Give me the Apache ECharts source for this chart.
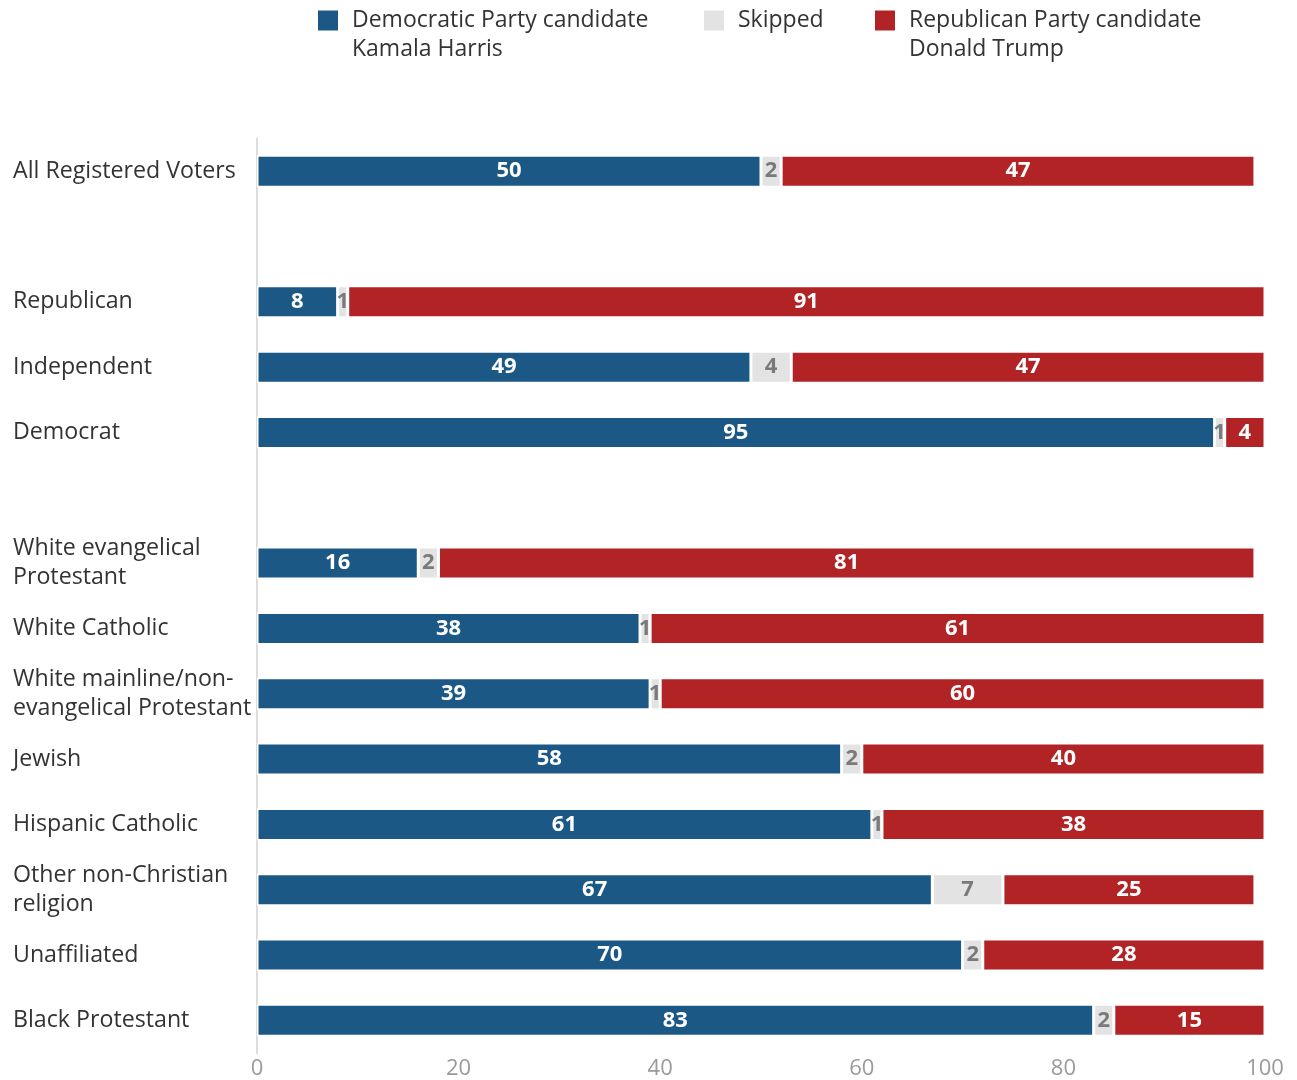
<!DOCTYPE html>
<html>
<head>
<meta charset="utf-8">
<script src="https://cdn.jsdelivr.net/npm/echarts@6/dist/echarts.min.js"></script>
<style>
  html, body { margin: 0; padding: 0; background: #fff; }
  #chart { width: 1297px; height: 1080px; }
</style>
</head>
<body>
<div id="chart"></div>
<script>
// Groups, top to bottom; blank entries leave a spacer row between sections
const categories = [
  'All Registered Voters',
  ' ',
  'Republican',
  'Independent',
  'Democrat',
  '  ',
  'White evangelical\nProtestant',
  'White Catholic',
  'White mainline/non-\nevangelical Protestant',
  'Jewish',
  'Hispanic Catholic',
  'Other non-Christian\nreligion',
  'Unaffiliated',
  'Black Protestant'
];

// Percent of each group
const harris  = [50, null, 8, 49, 95, null, 16, 38, 39, 58, 61, 67, 70, 83];
const skipped = [2,  null, 1, 4,  1,  null, 2,  1,  1,  2,  1,  7,  2,  2];
const trump   = [47, null, 91, 47, 4, null, 81, 61, 60, 40, 38, 25, 28, 15];

const xTicks = [0, 20, 40, 60, 80, 100];

const seriesNames = [
  'Democratic Party candidate\nKamala Harris',
  'Skipped',
  'Republican Party candidate\nDonald Trump'
];

const FONT = '"Open Sans", "Noto Sans", sans-serif';
const BLUE = '#1b5886';
const GREY = '#e3e3e3';
const RED = '#b12324';

// Square key sitting at the top of a two-line-tall icon box,
// so it lines up with the first line of a two-line legend label
const TALL_KEY = 'path://M0,0H20V20H0Z M0,49L20,49';

function barSeries(name, data, color, labelColor) {
  return {
    name: name,
    type: 'bar',
    stack: 'total',
    data: data,
    barWidth: 32,
    itemStyle: { color: color, borderColor: '#ffffff', borderWidth: 1.5 },
    label: {
      show: true,
      position: 'inside',
      color: labelColor,
      fontFamily: FONT,
      fontWeight: 'bold',
      fontSize: 22,
      formatter: p => (p.value == null ? '' : String(p.value))
    },
    emphasis: { disabled: true }
  };
}

function legendFor(name, left, tall) {
  return {
    left: left,
    top: 6,
    padding: 0,
    itemWidth: 20,
    itemHeight: tall ? 49 : 20,
    icon: tall ? TALL_KEY : 'rect',
    selectedMode: false,
    itemStyle: { borderWidth: 0 },
    textStyle: {
      fontFamily: FONT,
      fontSize: 23,
      color: '#333333',
      lineHeight: 29,
      padding: [0, 0, 0, 9]
    },
    data: [name]
  };
}

const chart = echarts.init(document.getElementById('chart'), null, { renderer: 'canvas' });

chart.setOption({
  animation: false,
  backgroundColor: '#ffffff',
  textStyle: { fontFamily: FONT },
  legend: [
    legendFor(seriesNames[0], 318, true),
    legendFor(seriesNames[1], 704, false),
    legendFor(seriesNames[2], 875, true)
  ],
  grid: { left: 257, right: 32, top: 138.5, bottom: 25.5 },
  xAxis: {
    type: 'value',
    min: xTicks[0],
    max: xTicks[xTicks.length - 1],
    interval: 20,
    axisLine: { show: false },
    axisTick: { show: false },
    splitLine: { show: false },
    axisLabel: { color: '#9a9a9a', fontFamily: FONT, fontSize: 22, margin: 5 }
  },
  yAxis: {
    type: 'category',
    inverse: true,
    data: categories,
    axisLine: { show: true, lineStyle: { color: '#dddddd', width: 2 } },
    axisTick: { show: false },
    axisLabel: {
      align: 'left',
      margin: 244,
      color: '#333333',
      fontFamily: FONT,
      fontSize: 23.2,
      lineHeight: 29,
      padding: [3, 0, 0, 0]
    }
  },
  series: [
    barSeries(seriesNames[0], harris, BLUE, '#ffffff'),
    barSeries(seriesNames[1], skipped, GREY, '#7a7a7a'),
    barSeries(seriesNames[2], trump, RED, '#ffffff')
  ]
});
</script>
</body>
</html>
